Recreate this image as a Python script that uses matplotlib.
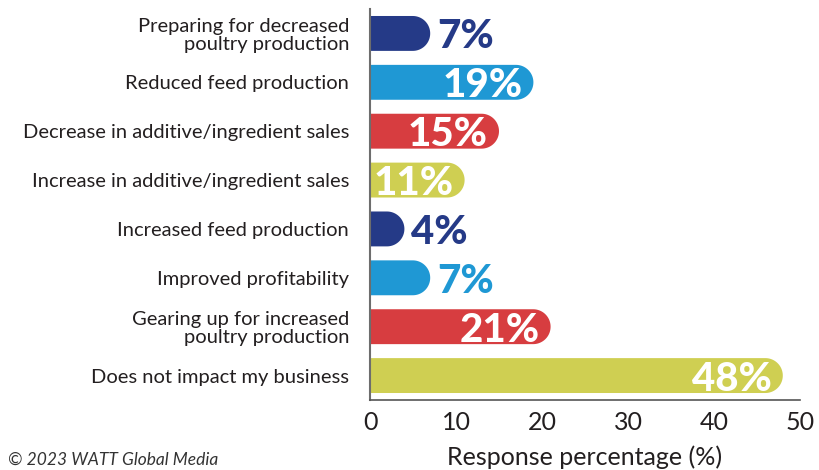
import matplotlib
matplotlib.use("Agg")
import matplotlib.pyplot as plt
import numpy as np
from matplotlib.patches import Polygon

plt.rcParams['font.family'] = ['Lato', 'DejaVu Sans']

categories = [
    "Preparing for decreased\npoultry production",
    "Reduced feed production",
    "Decrease in additive/ingredient sales",
    "Increase in additive/ingredient sales",
    "Increased feed production",
    "Improved profitability",
    "Gearing up for increased\npoultry production",
    "Does not impact my business",
]
values = [7, 19, 15, 11, 4, 7, 21, 48]
colors = ["#253a87", "#1f98d4", "#d73d40", "#cfcf52",
          "#253a87", "#1f98d4", "#d73d40", "#cfcf52"]
xticks = [0, 10, 20, 30, 40, 50]

W, H, DPI = 8.19, 4.70, 100
fig = plt.figure(figsize=(W, H), dpi=DPI)
left_px, right_px, top_px, bottom_px = 370, 800, 9, 400
ax = fig.add_axes([left_px / 819, (470 - bottom_px) / 470,
                   (right_px - left_px) / 819, (bottom_px - top_px) / 470])

xmax = 50
n = len(values)
ax.set_xlim(0, xmax)
ax.set_ylim(n - 0.5, -0.5)

bar_h = 0.714
px_per_x = (right_px - left_px) / xmax
px_per_y = (bottom_px - top_px) / n
rx = (bar_h * px_per_y / 2) / px_per_x  # cap radius in x data units

theta = np.linspace(np.pi / 2, -np.pi / 2, 60)
for i, (v, c) in enumerate(zip(values, colors)):
    cx = max(v - rx, 0)
    pts = [(0, i + bar_h / 2), (cx, i + bar_h / 2)]
    pts += [(cx + rx * np.cos(t), i + (bar_h / 2) * np.sin(t)) for t in theta]
    pts += [(cx, i - bar_h / 2), (0, i - bar_h / 2)]
    ax.add_patch(Polygon(pts, closed=True, facecolor=c, edgecolor='none',
                         antialiased=True))
    label = f"{v}%"
    if v >= 10:
        ax.text(v - 11 / px_per_x, i, label, ha='right', va='center_baseline',
                color='white', fontsize=29, fontweight='black')
    else:
        ax.text(v + 7 / px_per_x, i, label, ha='left', va='center_baseline',
                color=c, fontsize=29, fontweight='black')

ax.set_yticks(range(n))
ax.set_yticklabels(categories, fontsize=14.5, color='#231f20',
                   linespacing=1.05)
ax.set_xticks(xticks)
ax.set_xticklabels([str(t) for t in xticks], fontsize=18, color='#231f20')
ax.tick_params(axis='both', length=0)
ax.tick_params(axis='y', pad=15)
ax.tick_params(axis='x', pad=8)

for s in ['top', 'right']:
    ax.spines[s].set_visible(False)
ax.spines['left'].set_color('#6d6d6d')
ax.spines['left'].set_linewidth(1.5)
ax.spines['bottom'].set_color('#555555')
ax.spines['bottom'].set_linewidth(1.2)

ax.set_xlabel("Response percentage (%)", fontsize=18, color='#231f20',
              labelpad=8)

fig.text(8 / 819, 1 - 460 / 470, "© 2023 WATT Global Media", fontsize=12.5,
         style='italic', color='#333333', va='center', ha='left')

fig.savefig("out.png", dpi=DPI)
